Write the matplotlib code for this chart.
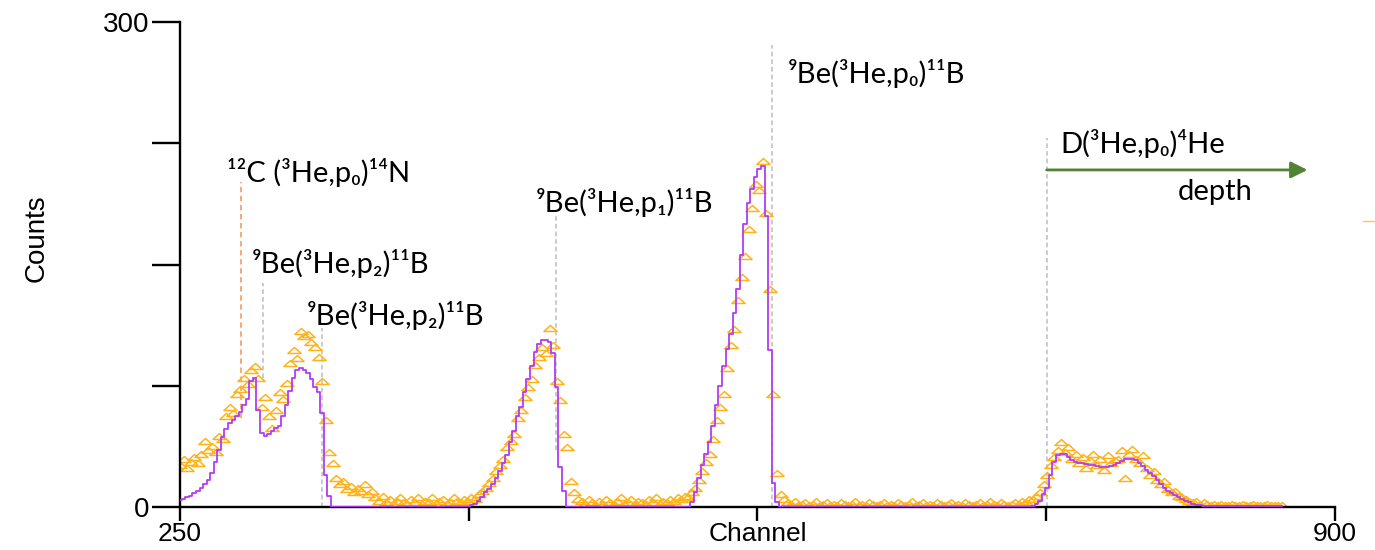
import numpy as np
import matplotlib
matplotlib.use('Agg')
import matplotlib.pyplot as plt
from matplotlib.path import Path
from matplotlib.lines import Line2D

# measured counts, one value every 2nd channel starting at channel 250
counts = [
    26, 30, 24, 28, 31, 27, 33, 41, 35, 38,
    34, 44, 42, 56, 62, 58, 70, 73, 80, 76,
    85, 87, 80, 62, 68, 56, 49, 60, 71, 67,
    77, 89, 97, 92, 109, 106, 107, 102, 99, 93,
    78, 54, 34, 27, 18, 14, 16, 11, 13, 9,
    12, 10, 14, 8, 10, 6, 4, 7, 3, 5,
    2, 4, 6, 3, 2, 5, 3, 6, 2, 4,
    3, 6, 2, 4, 5, 2, 3, 6, 4, 3,
    5, 4, 6, 5, 8, 10, 12, 15, 18, 22,
    26, 30, 37, 41, 45, 55, 60, 68, 74, 79,
    88, 93, 99, 95, 111, 100, 78, 66, 45, 37,
    16, 9, 5, 4, 2, 5, 3, 1, 4, 2,
    5, 3, 2, 4, 6, 2, 3, 5, 1, 4,
    3, 2, 5, 3, 6, 2, 4, 3, 5, 4,
    6, 5, 7, 6, 9, 12, 17, 22, 28, 33,
    42, 54, 62, 70, 86, 100, 110, 128, 142, 155,
    172, 185, 200, 196, 214, 182, 135, 70, 21, 8,
    5, 3, 2, 4, 1, 2, 3, 1, 2, 4,
    1, 2, 3, 1, 2, 1, 3, 2, 1, 2,
    4, 1, 2, 1, 3, 2, 1, 2, 3, 1,
    2, 1, 3, 2, 1, 2, 4, 1, 2, 3,
    1, 2, 1, 3, 2, 1, 2, 3, 1, 2,
    1, 3, 2, 1, 2, 3, 1, 2, 4, 2,
    1, 3, 2, 1, 2, 3, 2, 4, 3, 5,
    5, 7, 9, 14, 20, 26, 31, 35, 40, 34,
    37, 30, 33, 27, 31, 24, 29, 33, 26, 30,
    23, 32, 27, 29, 30, 35, 18, 33, 36, 30,
    27, 32, 24, 20, 22, 17, 14, 16, 11, 9,
    10, 7, 6, 5, 4, 3, 4, 2, 3, 2,
    1, 2, 1, 2, 1, 1, 2, 1, 1, 2,
    1, 1, 2, 1, 1, 1, 2, 1, 1, 1,
    1,
]

# simulated spectrum, same channel grid
fit = (
    [4.3, 5, 6, 7, 8.5, 10, 12, 14, 16.5, 21,
     28, 35, 43, 48, 52, 54, 56, 59, 63, 67,
     78, 80, 60, 46, 44, 45, 47, 49, 50, 56,
     63, 72, 80, 85, 86, 85, 83, 79, 74, 71,
     58, 20, 7, 0, 0, 0, 0, 0, 0, 0]
    + [0] * 30
    + [0, 0, 1, 2, 4, 6, 9, 11, 14, 18,
       22, 27, 32, 40, 47, 56, 62, 71, 79, 87,
       96, 101, 103, 103, 102, 95, 74, 25, 10, 0]
    + [0] * 30
    + [0, 0, 0, 0, 3, 9, 18, 26, 33, 40,
       50, 63, 75, 87, 98, 107, 120, 135, 156, 175,
       188, 197, 204, 209, 211, 180, 97, 15, 3, 0]
    + [0] * 70
    + [0.5, 2, 4, 8, 12, 20, 28, 32, 33, 33,
       31, 29, 28, 27, 27, 26.5, 26, 26, 25.5, 25,
       25, 25, 25.5, 26, 27.5, 28.5, 29.5, 30, 30, 29,
       27.5, 25.5, 23, 21, 19, 17, 14.5, 12, 10, 8.5,
       7.5, 6, 5, 4, 3, 2, 1.5, 1, 0.7, 0.5]
    + [0.5] * 21
)

channels = 250 + 2 * np.arange(len(counts))
fit_channels = 250 + 2 * np.arange(len(fit))

# reaction labels: text, channel, counts (baseline)
labels = ['¹²C (³He,p₀)¹⁴N', '⁹Be(³He,p₂)¹¹B', '⁹Be(³He,p₂)¹¹B',
          '⁹Be(³He,p₁)¹¹B', '⁹Be(³He,p₀)¹¹B', 'D(³He,p₀)⁴He', 'depth']
label_x = [276.5, 290.5, 321.5, 450.4, 592, 745.3, 811.7]
label_y = [201, 145, 112.6, 182.7, 262, 219, 190]

# marker lines: channel, bottom, top
gray_x = [296.7, 329.7, 461.6, 583.2, 737.7]
gray_lo = [80, 0, 35, 0, 0]
gray_hi = [138.6, 111, 180, 286, 228]
carbon_x, carbon_lo, carbon_hi = 284.3, 55, 201

fig = plt.figure(figsize=(13.75, 5.5), dpi=100)
ax = fig.add_axes([180 / 1375, 1 - 507 / 550, 1155 / 1375, 485 / 550])

tri = Path([(-1, -0.45), (1, -0.45), (0, 0.45), (-1, -0.45)],
           [Path.MOVETO, Path.LINETO, Path.LINETO, Path.CLOSEPOLY])

for x, lo, hi in zip(gray_x, gray_lo, gray_hi):
    ax.plot([x, x], [lo, hi], color='#bdbdbd', lw=1.1, dashes=(3, 2), zorder=1)
ax.plot([carbon_x, carbon_x], [carbon_lo, carbon_hi], color='#f4a36e', lw=1.3,
        dashes=(3, 2), zorder=1)

ax.plot(channels, counts, ls='none', marker=tri, ms=9.5, mfc='none',
        mec='#ffb31a', mew=1.1, zorder=2)
ax.plot(fit_channels, fit, drawstyle='steps-mid', color='#b23cf5', lw=1.3, zorder=3)

for t, x, y in zip(labels, label_x, label_y):
    ax.text(x, y, t, fontsize=21, family=['Lato', 'DejaVu Sans'],
            ha='left', va='baseline', color='black')

ax.annotate('', xy=(884.5, 208.5), xytext=(737.7, 208.5),
            arrowprops=dict(arrowstyle='-|>', color='#548235', lw=2,
                            mutation_scale=25, shrinkA=0, shrinkB=0))

ax.set_xlim(250, 900)
ax.set_ylim(0, 300)
ax.spines['top'].set_visible(False)
ax.spines['right'].set_visible(False)
for s in ['left', 'bottom']:
    ax.spines[s].set_linewidth(1.7)

ax.set_xticks([250, 412.5, 575, 737.5, 900])
ax.set_xticklabels(['250', '', 'Channel', '', '900'])
ax.set_yticks([0, 75, 150, 225, 300])
ax.set_yticklabels(['0', '', '', '', '300'])
ax.tick_params(axis='x', length=10, width=1.7, pad=0.5, labelsize=19)
ax.tick_params(axis='y', length=20, width=1.7, pad=2, labelsize=20)
for lab in ax.get_xticklabels() + ax.get_yticklabels():
    lab.set_family('Liberation Sans')

fig.text(37 / 1375, 1 - 238 / 550, 'Counts', rotation=90, ha='center', va='center',
         fontsize=20, family='Liberation Sans')

fig.add_artist(Line2D([1363 / 1375, 1], [0.598, 0.598], color='#ffc45a', lw=1))

fig.savefig('out.png', dpi=100)
